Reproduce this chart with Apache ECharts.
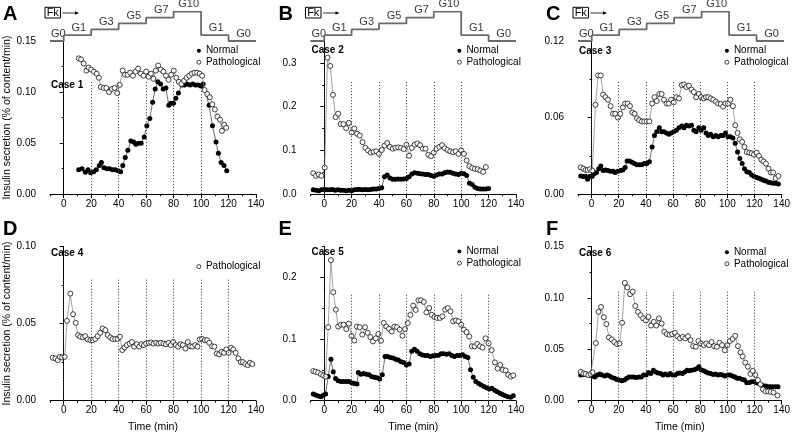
<!DOCTYPE html>
<html><head><meta charset="utf-8">
<script src="https://cdn.jsdelivr.net/npm/echarts@6/dist/echarts.min.js"></script>
<style>html,body{margin:0;padding:0;background:#fff}#c{width:793px;height:435px}</style>
</head><body><div id="c"></div>
<script>
const FONT = '"Liberation Sans", Arial, Helvetica, sans-serif';

// ---------- tick values ----------
const xMajor = [0, 20, 40, 60, 80, 100, 120, 140];
const xMinor = [-10, 10, 30, 50, 70, 90, 110, 130];

// ---------- glucose staircase ----------
const stairTimes  = [-10, 0, 20, 40, 60, 80, 100, 120, 140];
const stairLevels = [0, 1, 2, 3, 4, 5, 1, 0, 0];
const stairLabels = ['G0', 'G1', 'G3', 'G5', 'G7', 'G10', 'G1', 'G0'];

// ---------- data: [time (min), insulin secretion] ----------
const case1Normal = [[10.9,0.024],[13.3,0.025],[15.7,0.0215],[17.7,0.024],[19.6,0.021],[21.8,0.022],[23.7,0.024],[25.9,0.028],[27.4,0.031],[29.3,0.026],[31.5,0.025],[33.4,0.025],[35.6,0.024],[37.5,0.024],[39.5,0.023],[41.4,0.022],[43,0.028],[44.8,0.036],[46.7,0.043],[48.9,0.052],[50.9,0.051],[52.5,0.049],[54.2,0.050],[56.4,0.050],[58.6,0.056],[60.5,0.067],[62.7,0.074],[64.7,0.090],[66.6,0.103],[68.5,0.110],[70.5,0.108],[72.4,0.103],[74.4,0.104],[76.5,0.087],[78,0.089],[79.9,0.089],[81.6,0.094],[83.5,0.099],[86,0.107],[87.9,0.107],[89.8,0.108],[92,0.107],[93.9,0.108],[95.9,0.107],[98,0.107],[99.9,0.106],[101.5,0.108],[105.8,0.087],[108.3,0.067],[110.9,0.051],[112.6,0.040],[114.6,0.031],[116.7,0.028],[118.7,0.023]];
const case1Path = [[10.9,0.133],[12.6,0.132],[14.5,0.128],[16.5,0.121],[18.2,0.124],[20,0.122],[22,0.120],[24,0.118],[25.6,0.114],[27,0.105],[29,0.104],[31,0.104],[33,0.100],[35,0.103],[37,0.104],[39,0.099],[40.7,0.107],[42.9,0.121],[44.6,0.117],[46.5,0.117],[48.4,0.119],[50.4,0.116],[52.3,0.120],[54.2,0.123],[56.2,0.118],[58.1,0.116],[60,0.120],[61.8,0.115],[63.5,0.118],[65.3,0.113],[67,0.121],[68.8,0.126],[70.7,0.122],[72.6,0.120],[74.4,0.116],[76.3,0.112],[78.2,0.117],[80.1,0.121],[82,0.114],[83.8,0.110],[85.7,0.108],[87.6,0.111],[89.5,0.114],[91.4,0.116],[93.3,0.118],[95.2,0.119],[97.1,0.119],[99,0.118],[100.8,0.116],[102.6,0.102],[104.5,0.098],[106.4,0.095],[108.2,0.088],[110,0.083],[111.9,0.076],[113.8,0.073],[115.2,0.062],[116.8,0.068],[118.3,0.065]];

const case2Normal = [[-8,0.010],[-6,0.009],[-4,0.008],[-2,0.010],[0,0.011],[2,0.010],[4,0.010],[6,0.011],[8,0.009],[10,0.010],[12,0.009],[14,0.009],[16,0.008],[18,0.009],[20,0.008],[22,0.010],[24,0.011],[26,0.011],[28,0.010],[30,0.011],[32,0.010],[34,0.011],[36,0.012],[38,0.012],[40,0.013],[42,0.015],[44,0.040],[46,0.044],[48,0.037],[50,0.034],[52,0.034],[54,0.035],[56,0.034],[58,0.035],[60,0.036],[62,0.040],[64,0.046],[66,0.049],[68,0.048],[70,0.047],[72,0.046],[74,0.045],[76,0.045],[78,0.043],[80,0.041],[82,0.044],[84,0.046],[86,0.046],[88,0.049],[90,0.051],[92,0.050],[94,0.048],[96,0.046],[98,0.045],[100,0.048],[102,0.047],[104,0.043],[106,0.025],[108,0.022],[110,0.016],[112,0.013],[114,0.012],[116,0.012],[118,0.012],[120,0.013]];
const case2Path = [[-8,0.048],[-6,0.042],[-4,0.045],[-2,0.042],[0.4,0.061],[2.4,0.312],[4.4,0.293],[6.4,0.227],[8.3,0.176],[10.2,0.184],[12,0.160],[14,0.160],[16,0.151],[18,0.163],[20,0.141],[22,0.150],[24,0.138],[26,0.134],[28,0.119],[30,0.106],[32,0.100],[34,0.095],[36,0.097],[38,0.098],[40,0.092],[42,0.101],[44,0.111],[46,0.117],[48,0.108],[50,0.104],[52,0.106],[54,0.107],[56,0.106],[58,0.103],[60,0.113],[62,0.088],[64,0.106],[66,0.113],[68,0.116],[70,0.112],[72,0.104],[74,0.104],[76,0.090],[78,0.087],[80,0.095],[82,0.104],[84,0.108],[86,0.112],[88,0.105],[90,0.101],[92,0.098],[94,0.096],[96,0.098],[98,0.092],[100,0.100],[102,0.092],[104,0.077],[106,0.064],[108,0.060],[110,0.058],[112,0.057],[114,0.054],[116,0.051],[118,0.062]];

const case3Normal = [[-8,0.0143],[-6,0.0138],[-4.4,0.014],[-2.9,0.0117],[-1.2,0.014],[0.5,0.014],[1.9,0.016],[3.6,0.017],[5.3,0.020],[6.8,0.022],[8.5,0.0185],[10.2,0.019],[12,0.0185],[14,0.018],[16,0.018],[17.4,0.017],[19.4,0.018],[21.3,0.0185],[23,0.019],[24.7,0.021],[26.2,0.026],[27.9,0.026],[29.8,0.025],[31.5,0.024],[33.4,0.023],[35.4,0.023],[37,0.023],[38.8,0.024],[40.7,0.024],[42.6,0.0255],[44.6,0.037],[46.3,0.046],[48,0.049],[49.9,0.052],[51.6,0.049],[53.3,0.049],[55.2,0.048],[56.9,0.047],[58.6,0.048],[60.5,0.049],[62.5,0.050],[64.4,0.052],[66.4,0.0535],[68.1,0.052],[69.8,0.054],[71.7,0.0535],[73.6,0.054],[75.3,0.050],[77,0.049],[79,0.052],[80.6,0.050],[82.6,0.052],[84.3,0.048],[86,0.046],[87.7,0.047],[89.6,0.045],[91.5,0.046],[93.2,0.045],[95.2,0.046],[96.9,0.046],[98.6,0.048],[100.5,0.045],[102.2,0.045],[104.1,0.044],[105.8,0.040],[107.5,0.033],[109.2,0.028],[110.9,0.024],[112.6,0.020],[114.3,0.0175],[116.2,0.017],[117.9,0.015],[119.6,0.014],[121.6,0.013],[123.3,0.0125],[125,0.0117],[126.7,0.011],[128.4,0.0104],[130.3,0.0094],[132,0.009],[133.7,0.0086],[135.6,0.0086],[137.6,0.008]];
const case3Path = [[-8,0.021],[-6,0.020],[-4.4,0.019],[-2.9,0.019],[-1.2,0.0196],[0.5,0.0185],[2.9,0.070],[4.8,0.093],[6.8,0.093],[8.5,0.078],[10.2,0.076],[12.1,0.074],[14,0.069],[15.7,0.063],[17.4,0.063],[19.4,0.060],[21.1,0.063],[23,0.068],[24.7,0.071],[26.6,0.071],[28.3,0.069],[30,0.064],[31.7,0.063],[33.4,0.0595],[35.1,0.058],[37,0.057],[38.8,0.057],[40.7,0.057],[42.6,0.057],[44.6,0.071],[46.3,0.076],[48,0.073],[49.9,0.0785],[51.6,0.0785],[53.3,0.074],[55.2,0.071],[56.9,0.071],[58.6,0.074],[60.5,0.072],[62.5,0.076],[64.4,0.075],[66.4,0.0855],[68.1,0.086],[69.8,0.084],[71.7,0.085],[73.6,0.082],[75.3,0.080],[77,0.076],[79,0.0785],[80.6,0.076],[82.6,0.075],[84.3,0.076],[86,0.076],[87.7,0.075],[89.6,0.074],[91.5,0.0725],[93.2,0.071],[95.2,0.0707],[96.9,0.0686],[98.6,0.071],[100.5,0.071],[102.2,0.074],[104.1,0.069],[105.8,0.054],[107.5,0.048],[109.2,0.043],[110.9,0.041],[112.6,0.037],[114.3,0.033],[116.2,0.0326],[117.9,0.032],[119.6,0.031],[121.6,0.0326],[123.3,0.030],[125,0.027],[126.7,0.0256],[128.4,0.024],[130.3,0.020],[132,0.017],[133.7,0.017],[135.6,0.0125],[137.6,0.0143]];

const case4Path = [[-8,0.0278],[-6,0.0274],[-4.4,0.0263],[-2.9,0.0284],[-1.2,0.028],[0.7,0.0284],[2.4,0.0517],[4.8,0.0694],[6.8,0.056],[8.7,0.0504],[10.4,0.0425],[12.1,0.0414],[14,0.041],[15.7,0.0418],[17.4,0.0397],[19.4,0.0392],[21.1,0.0392],[23,0.040],[24.7,0.0418],[26.6,0.044],[28.3,0.0468],[30.3,0.0457],[32,0.0425],[33.9,0.041],[35.6,0.040],[37.5,0.040],[39.2,0.040],[40.9,0.0414],[42.6,0.0328],[44.3,0.0345],[46,0.036],[48,0.037],[49.6,0.038],[51.3,0.035],[53.3,0.0366],[55,0.035],[56.7,0.0366],[58.4,0.036],[60,0.037],[62,0.0375],[63.7,0.0377],[65.4,0.037],[67.3,0.0375],[69,0.037],[70.7,0.0375],[72.7,0.037],[74.4,0.0366],[76.3,0.0375],[78,0.036],[79.7,0.038],[81.6,0.036],[83.3,0.035],[85,0.0366],[86.7,0.036],[88.6,0.0338],[90.3,0.038],[92,0.0353],[93.7,0.035],[95.7,0.036],[97.4,0.035],[99,0.0397],[100.7,0.040],[102.7,0.0392],[104.4,0.0392],[106,0.0375],[108,0.0353],[109.7,0.035],[111.4,0.0306],[113.1,0.030],[115,0.0317],[116.7,0.031],[118.4,0.0332],[120.1,0.031],[121.8,0.0343],[123.5,0.0332],[125.2,0.031],[127.1,0.0274],[128.9,0.025],[130.5,0.025],[132.2,0.0237],[134,0.023],[135.6,0.0246],[137.3,0.0237]];

const case5Normal = [[-8,0.0108],[-6.3,0.0092],[-4.4,0.0076],[-2.4,0.0065],[-0.7,0.0087],[1,0.0108],[2.9,0.039],[4.9,0.067],[6.6,0.047],[8.3,0.036],[10.2,0.0325],[12.2,0.031],[14.1,0.031],[16.1,0.031],[18,0.031],[20,0.029],[22,0.028],[23.9,0.027],[24.9,0.0455],[26.8,0.043],[28.8,0.044],[30.7,0.043],[32.7,0.042],[34.6,0.039],[36.6,0.038],[38.5,0.037],[40.5,0.035],[42.4,0.042],[44.4,0.0715],[46.3,0.0715],[48.3,0.070],[50.2,0.069],[52.2,0.067],[54.1,0.066],[56.1,0.063],[58,0.062],[60,0.058],[62,0.0596],[63.9,0.080],[65.9,0.0835],[67.8,0.080],[69.8,0.076],[71.7,0.074],[73.7,0.073],[75.6,0.073],[77.6,0.0715],[79.5,0.0726],[81.5,0.073],[83.4,0.0737],[85.4,0.076],[87.3,0.076],[89.3,0.0753],[91.2,0.076],[93.2,0.073],[95.1,0.0715],[97.1,0.073],[99,0.073],[101,0.0743],[102.9,0.0715],[104.9,0.070],[106.8,0.050],[108.8,0.038],[110.7,0.031],[112.7,0.028],[114.6,0.0255],[116.6,0.023],[118.5,0.021],[120.5,0.019],[122.4,0.020],[124.4,0.017],[126.3,0.0146],[128.3,0.012],[130.2,0.010],[132.2,0.008],[134.1,0.0065],[136.1,0.0054],[138,0.008]];
const case5Path = [[-8,0.048],[-6.3,0.047],[-4.4,0.0455],[-2.4,0.043],[-0.7,0.0407],[1,0.039],[2.9,0.119],[4.9,0.2276],[6.6,0.1756],[8.5,0.1474],[10.2,0.120],[12.2,0.123],[14.1,0.123],[16.1,0.116],[18,0.1247],[20,0.105],[22,0.0976],[23.9,0.120],[25.9,0.119],[27.8,0.107],[29.8,0.119],[31.7,0.110],[33.7,0.103],[35.6,0.096],[37.6,0.101],[39.5,0.108],[41.5,0.097],[43.4,0.126],[45.4,0.120],[47.3,0.1165],[49.3,0.112],[51.2,0.120],[53.2,0.119],[55.1,0.115],[57.1,0.105],[59,0.116],[61,0.1257],[62.9,0.139],[64.9,0.154],[66.8,0.147],[68.8,0.1626],[70.7,0.1626],[72.7,0.160],[74.6,0.143],[76.6,0.150],[78.5,0.139],[80.5,0.1355],[82.4,0.134],[84.4,0.134],[86.3,0.1366],[88.3,0.1474],[90.2,0.150],[92.2,0.1447],[94.1,0.1285],[96.1,0.130],[98,0.1285],[100,0.123],[102,0.115],[103.9,0.111],[105.9,0.104],[107.8,0.088],[109.8,0.088],[111.7,0.092],[113.7,0.088],[115.6,0.086],[117.8,0.101],[120,0.093],[122.2,0.082],[124.6,0.062],[126.6,0.052],[128.5,0.058],[130.4,0.050],[132.4,0.049],[134.3,0.042],[136.2,0.039],[138,0.041]];

const case6Normal = [[-8,0.025],[-6,0.0255],[-4.4,0.026],[-2.9,0.025],[-1.2,0.025],[0.5,0.024],[2.4,0.023],[4.4,0.025],[6.1,0.026],[7.7,0.025],[9.7,0.024],[11.4,0.025],[13.3,0.024],[15,0.0226],[17,0.0217],[18.6,0.0207],[20.3,0.020],[22.3,0.0194],[24.2,0.020],[25.9,0.0217],[27.6,0.023],[29.5,0.023],[31.2,0.023],[32.9,0.0226],[34.9,0.023],[36.6,0.023],[38.3,0.025],[40.2,0.025],[41.9,0.0275],[43.6,0.0265],[45.5,0.0297],[47.2,0.028],[48.9,0.027],[50.9,0.0265],[52.6,0.025],[54.3,0.026],[56.2,0.025],[57.9,0.0265],[59.6,0.025],[61.5,0.025],[63.3,0.0265],[64.9,0.027],[66.9,0.0265],[68.6,0.028],[70.3,0.0297],[72,0.029],[73.6,0.0297],[75.6,0.030],[77.3,0.031],[79,0.033],[80.6,0.030],[82.6,0.029],[84.3,0.028],[86,0.027],[87.7,0.0265],[89.6,0.0255],[91.3,0.026],[93,0.025],[94.9,0.0255],[96.6,0.025],[98.3,0.024],[100.3,0.025],[102,0.025],[103.7,0.024],[105.6,0.023],[107.3,0.0217],[109,0.0217],[111,0.0207],[112.6,0.020],[114.3,0.0175],[116.2,0.0178],[117.9,0.0184],[119.6,0.0184],[121.6,0.0175],[123.3,0.0168],[125,0.0152],[126.7,0.0142],[128.4,0.0142],[130.4,0.0136],[132,0.0136],[133.7,0.0136],[135.6,0.0136],[137.3,0.0136]];
const case6Path = [[-8,0.028],[-6,0.0265],[-4.4,0.026],[-2.4,0.025],[-0.7,0.026],[0.7,0.0275],[3.1,0.056],[5.1,0.0863],[7,0.091],[9,0.081],[10.9,0.0744],[12.8,0.0614],[14.8,0.0595],[16.7,0.057],[18.7,0.055],[20.6,0.0556],[22.5,0.0757],[24.5,0.1145],[26.4,0.110],[28.3,0.1035],[30.3,0.106],[32.2,0.092],[34.1,0.0863],[36.1,0.083],[38,0.080],[40,0.078],[41.9,0.0815],[43.8,0.073],[45.8,0.0766],[47.7,0.073],[49.6,0.080],[51.6,0.075],[53.5,0.067],[55.5,0.0647],[57.4,0.064],[59.3,0.0647],[61.3,0.066],[63.2,0.0627],[65.1,0.0605],[67.1,0.062],[69,0.0605],[71,0.0627],[72.9,0.0588],[74.8,0.053],[76.8,0.0524],[78.7,0.058],[80.6,0.0556],[82.6,0.054],[84.5,0.0556],[86.5,0.054],[88.4,0.057],[90.3,0.053],[92.3,0.0524],[94.2,0.0563],[96.1,0.054],[98.1,0.049],[100,0.054],[101.9,0.058],[103.9,0.060],[105.8,0.063],[107.8,0.053],[109.7,0.047],[111.3,0.043],[113.2,0.037],[115.1,0.033],[117,0.026],[118.8,0.029],[120.6,0.025],[122.5,0.020],[124.4,0.016],[126.3,0.011],[128.2,0.009],[130.1,0.009],[132,0.0085],[134,0.008],[136.9,0.005]];

// ---------- panel definitions ----------
const panels = [
  {letter:'A', caseName:'Case 1', normal:case1Normal, path:case1Path, yMax:0.15, yMajor:[0,0.05,0.10,0.15], yMinor:[0.025,0.075,0.125], dec:2, vlines:[20,40,60,80,100], vTops:[0.11,0.11,0.11,0.11,0.11]},
  {letter:'B', caseName:'Case 2', normal:case2Normal, path:case2Path, yMax:0.35, yMajor:[0,0.1,0.2,0.3], yMinor:[0.05,0.15,0.25,0.35], dec:1, vlines:[0,20,40,60,80,100], vTops:[0.32,0.256,0.256,0.256,0.256,0.256]},
  {letter:'C', caseName:'Case 3', normal:case3Normal, path:case3Path, yMax:0.12, yMajor:[0,0.06,0.12], yMinor:[0.03,0.09], dec:2, vlines:[0,20,40,60,80,100,120], vTops:[0.088,0.088,0.088,0.088,0.088,0.088,0.088]},
  {letter:'D', caseName:'Case 4', normal:null, path:case4Path, yMax:0.10, yMajor:[0,0.05,0.10], yMinor:[0.025,0.075], dec:2, vlines:[0,20,40,60,80,100,120], vTops:[0.079,0.079,0.079,0.079,0.079,0.079,0.079]},
  {letter:'E', caseName:'Case 5', normal:case5Normal, path:case5Path, yMax:0.25, yMajor:[0,0.1,0.2], yMinor:[0.05,0.15,0.25], dec:1, vlines:[0,20,40,60,80,100,120], vTops:[0.175,0.175,0.175,0.175,0.175,0.175,0.175]},
  {letter:'F', caseName:'Case 6', normal:case6Normal, path:case6Path, yMax:0.15, yMajor:[0,0.05,0.10,0.15], yMinor:[0.025,0.075,0.125], dec:2, vlines:[0,20,40,60,80,100,120], vTops:[0.108,0.108,0.108,0.108,0.108,0.108,0.108]}
];

// ---------- layout (pixels) ----------
const colLeft = [50, 310.5, 578], colWidth = [206, 205.5, 206];
const rowTop = [41, 246.3], rowHeight = [153.2, 154.4];
const legendTop = [10.7 - 6, 10.7 - 6, 10.7 - 6, 21.3 - 6, 6.3 - 6, 7 - 6];
const caseTop = [44, 9.5, 10.5, 6.7, 6.4, 6.7];

const grids = [], xAxes = [], yAxes = [], series = [], legends = [], graphics = [];
const txt = {color:'#000', fontFamily:FONT, fontSize:10};

panels.forEach((P, p) => {
  const col = p % 3, row = Math.floor(p / 3);
  const left = colLeft[col], top = rowTop[row], width = colWidth[col], height = rowHeight[row];
  grids.push({left, top, width, height});
  xAxes.push({type:'value', gridIndex:p, min:-10, max:140, position:'bottom',
    axisLine:{onZero:false, lineStyle:{color:'#000', width:1}},
    axisTick:{show:true, customValues:xMajor, length:4, lineStyle:{color:'#000', width:1}},
    axisLabel:{show:true, customValues:xMajor, margin:5, ...txt},
    splitLine:{show:false},
    name: row === 1 ? 'Time (min)' : '', nameLocation:'middle', nameGap:21,
    nameTextStyle:{...txt, fontSize:10.5}});
  xAxes.push({type:'value', gridIndex:p, min:-10, max:140, position:'bottom',
    axisLine:{show:false, onZero:false},
    axisTick:{show:true, customValues:xMinor, length:2, lineStyle:{color:'#000', width:1}},
    axisLabel:{show:false}, splitLine:{show:false}});
  yAxes.push({type:'value', gridIndex:p, min:0, max:P.yMax, position:'left', offset:8,
    axisLine:{show:true, lineStyle:{color:'#000', width:1}},
    axisTick:{show:true, customValues:P.yMajor, length:4, lineStyle:{color:'#000', width:1}},
    axisLabel:{show:true, customValues:P.yMajor, margin:6, formatter:v => v.toFixed(P.dec), ...txt},
    splitLine:{show:false},
    name: col === 0 ? 'Insulin secretion (% of content/min)' : '', nameLocation:'middle', nameGap:29,
    nameTextStyle:{...txt, fontSize:10.5}});
  yAxes.push({type:'value', gridIndex:p, min:0, max:P.yMax, position:'left', offset:8,
    axisLine:{show:false},
    axisTick:{show:true, customValues:P.yMinor, length:2, lineStyle:{color:'#000', width:1}},
    axisLabel:{show:false}, splitLine:{show:false}});

  const markLine = {silent:true, symbol:['none','none'], label:{show:false}, animation:false,
    lineStyle:{type:[1,2], color:'#333', width:1},
    data: P.vlines.map((t, i) => [{coord:[t, 0]}, {coord:[t, P.vTops[i]]}])};

  const legendData = [];
  if (P.normal) {
    series.push({type:'line', name:'Normal', xAxisIndex:2*p, yAxisIndex:2*p, data:P.normal,
      symbol:'circle', symbolSize:5, showSymbol:true, itemStyle:{color:'#000'},
      lineStyle:{color:'#333', width:0.7}, animation:false, z:2, markLine});
    legendData.push({name:'Normal', icon:'circle', itemStyle:{color:'#000', borderWidth:0}});
  }
  series.push({type:'line', name:'Pathological', xAxisIndex:2*p, yAxisIndex:2*p, data:P.path,
    symbol:'circle', symbolSize:5, showSymbol:true,
    itemStyle:{color:'#fff', borderColor:'#111', borderWidth:0.8},
    lineStyle:{color:'#8a8a8a', width:0.8}, animation:false, z:3,
    markLine: P.normal ? undefined : markLine});
  legendData.push({name:'Pathological', icon:'circle', itemStyle:{color:'#fff', borderColor:'#111', borderWidth:0.8}});

  legends.push({orient:'vertical', left:left + 146.5, top:top + legendTop[p], itemWidth:4, itemHeight:4,
    itemGap:1.5, selectedMode:false, padding:0, textStyle:{...txt}, data:legendData});

  graphics.push({type:'text', left:col === 0 ? 3 : left - 32, top:row === 0 ? 4 : 219.5,
    style:{text:P.letter, font:'bold 20px ' + FONT, fill:'#000'}});
  graphics.push({type:'text', x:left + 1, y:top + caseTop[p],
    style:{text:P.caseName, font:'bold 10px ' + FONT, fill:'#000', verticalAlign:'middle'}});
});

// staircase panels (top row)
for (let c = 0; c < 3; c++) {
  const gi = grids.length;
  grids.push({left:colLeft[c], top:11.7, width:colWidth[c], height:29.3});
  const xi = xAxes.length, yi = yAxes.length;
  xAxes.push({type:'value', gridIndex:gi, min:-10, max:140, show:false});
  yAxes.push({type:'value', gridIndex:gi, min:0, max:5, show:false});
  series.push({type:'line', name:'stairs' + c, xAxisIndex:xi, yAxisIndex:yi, step:'end',
    data: stairTimes.map((t, i) => [t, stairLevels[i]]), symbol:'none', silent:true,
    lineStyle:{color:'#6a6a6a', width:1.8}, animation:false});
  series.push({type:'scatter', name:'stairLabels' + c, xAxisIndex:xi, yAxisIndex:yi, silent:true,
    symbolSize:1, itemStyle:{color:'rgba(0,0,0,0)'}, animation:false,
    data: stairLabels.map((n, i) => ({name:n, value:[(stairTimes[i] + stairTimes[i+1]) / 2 + 1, stairLevels[i]]})),
    label:{show:true, position:'top', distance:1.5, formatter:'{b}', color:'#000', fontFamily:FONT, fontSize:11}});
  const L = colLeft[c];
  graphics.push({type:'rect', shape:{x:L - 5, y:7.3, width:15.5, height:10.7},
    style:{fill:'#fff', stroke:'#000', lineWidth:1}});
  graphics.push({type:'text', x:L + 2.75, y:12.8,
    style:{text:'Fk', font:'11px ' + FONT, fill:'#000', align:'center', verticalAlign:'middle'}});
  graphics.push({type:'line', shape:{x1:L + 12.5, y1:13, x2:L + 26, y2:13}, style:{stroke:'#000', lineWidth:0.8}});
  graphics.push({type:'polygon', shape:{points:[[L + 29, 13], [L + 25, 11.3], [L + 25, 14.7]]}, style:{fill:'#000'}});
}

const chart = echarts.init(document.getElementById('c'), null, {renderer:'canvas'});
chart.setOption({
  backgroundColor:'#fff',
  animation:false,
  grid:grids, xAxis:xAxes, yAxis:yAxes, legend:legends, series:series, graphic:graphics
});
</script></body></html>
